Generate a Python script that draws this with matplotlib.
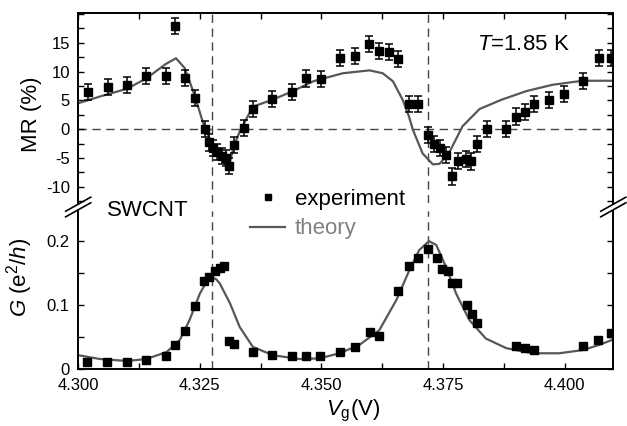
import numpy as np
import matplotlib
matplotlib.use("Agg")
import matplotlib.pyplot as plt
from matplotlib.lines import Line2D
from matplotlib.ticker import MultipleLocator, FixedLocator, FormatStrFormatter

plt.rcParams["font.family"] = ["Liberation Sans", "DejaVu Sans"]
plt.rcParams["mathtext.fontset"] = "custom"
plt.rcParams["mathtext.rm"] = "Liberation Sans"
plt.rcParams["mathtext.it"] = "Liberation Sans:italic"
plt.rcParams["axes.unicode_minus"] = False

#%% data
# magnetoresistance (%) vs gate voltage, measured
vg_mr = [4.3021, 4.3061, 4.3100, 4.3139, 4.3180, 4.3200, 4.3219, 4.3240, 4.3260,
         4.3269, 4.3277, 4.3286, 4.3295, 4.3303, 4.3310, 4.3320, 4.3340, 4.3359,
         4.3399, 4.3439, 4.3469, 4.3499, 4.3539, 4.3570, 4.3598, 4.3618, 4.3639,
         4.3658, 4.3679, 4.3698, 4.3719, 4.3732, 4.3744, 4.3756, 4.3769, 4.3780,
         4.3797, 4.3808, 4.3819, 4.3840, 4.3880, 4.3899, 4.3919, 4.3938, 4.3968,
         4.3998, 4.4037, 4.4070, 4.4095]
mr = [6.5, 7.3, 7.6, 9.25, 9.25, 17.9, 8.85, 5.4, 0.1,
      -2.3, -3.2, -3.9, -4.6, -5.0, -6.4, -2.7, 0.2, 3.5,
      5.2, 6.5, 8.8, 8.7, 12.3, 12.7, 14.75, 13.5, 13.4,
      12.15, 4.3, 4.3, -1.0, -2.55, -3.3, -4.5, -8.2, -5.45,
      -5.2, -5.6, -2.6, 0.0, 0.0, 2.2, 3.05, 4.4, 5.0,
      6.1, 8.3, 12.4, 12.4]
mr_err = 1.4

# magnetoresistance, theory
vg_mr_th = [4.3000, 4.3050, 4.3100, 4.3140, 4.3180, 4.3201, 4.3219, 4.3240, 4.3257,
            4.3280, 4.3300, 4.3308, 4.3320, 4.3332, 4.3359, 4.3399, 4.3439, 4.3483,
            4.3500, 4.3544, 4.3599, 4.3626, 4.3647, 4.3667, 4.3680, 4.3688, 4.3708,
            4.3729, 4.3743, 4.3763, 4.3790, 4.3825, 4.3870, 4.3921, 4.3975, 4.4037,
            4.4098]
mr_th = [4.5, 5.8, 7.0, 8.8, 11.3, 12.3, 10.6, 5.7, 1.0,
         -3.5, -5.8, -6.8, -3.0, -0.4, 3.9, 5.1, 6.5, 8.3,
         8.7, 9.7, 10.2, 9.7, 8.3, 5.1, 2.2, -0.1, -4.2,
         -6.1, -6.0, -4.0, 0.5, 3.5, 5.1, 6.6, 7.7, 8.4,
         8.4]

# conductance G (e^2/h), measured
vg_g = [4.3019, 4.3060, 4.3100, 4.3139, 4.3180, 4.3200, 4.3220, 4.3240, 4.3259,
        4.3268, 4.3281, 4.3291, 4.3300, 4.3309, 4.3320, 4.3359, 4.3399, 4.3439,
        4.3469, 4.3498, 4.3539, 4.3570, 4.3599, 4.3619, 4.3658, 4.3679, 4.3698,
        4.3719, 4.3738, 4.3748, 4.3760, 4.3768, 4.3779, 4.3799, 4.3809, 4.3819,
        4.3899, 4.3919, 4.3938, 4.4037, 4.4068, 4.4096]
g = [0.012, 0.012, 0.012, 0.0145, 0.020, 0.038, 0.060, 0.099, 0.138,
     0.144, 0.153, 0.158, 0.161, 0.044, 0.040, 0.027, 0.022, 0.020,
     0.020, 0.021, 0.0265, 0.035, 0.058, 0.052, 0.122, 0.161, 0.173,
     0.187, 0.173, 0.156, 0.154, 0.135, 0.135, 0.100, 0.086, 0.072,
     0.036, 0.033, 0.030, 0.036, 0.045, 0.056]

# conductance, theory
vg_g_th = [4.3000, 4.3045, 4.3100, 4.3140, 4.3182, 4.3209, 4.3229, 4.3250, 4.3264,
           4.3274, 4.3283, 4.3291, 4.3312, 4.3332, 4.3359, 4.3400, 4.3455, 4.3496,
           4.3537, 4.3578, 4.3619, 4.3654, 4.3681, 4.3701, 4.3721, 4.3736, 4.3756,
           4.3777, 4.3804, 4.3838, 4.3880, 4.3934, 4.3989, 4.4037, 4.4071, 4.4098]
g_th = [0.022, 0.016, 0.013, 0.016, 0.027, 0.046, 0.077, 0.118, 0.137,
        0.143, 0.141, 0.134, 0.103, 0.066, 0.035, 0.022, 0.016, 0.017,
        0.025, 0.038, 0.061, 0.108, 0.155, 0.186, 0.200, 0.194, 0.160,
        0.118, 0.077, 0.048, 0.033, 0.025, 0.025, 0.030, 0.038, 0.046]

peaks = [4.3275, 4.3720]
mr_ticks = [-10, -5, 0, 5, 10, 15]

#%% figure
W, H = 627, 426
fig = plt.figure(figsize=(W / 100, H / 100), dpi=100)

def box(x0, y0, x1, y1):
    # pixel box (top-left origin) -> figure fraction
    return [x0 / W, 1 - y1 / H, (x1 - x0) / W, (y1 - y0) / H]

ax1 = fig.add_axes(box(78.2, 12.7, 613.3, 203))
ax2 = fig.add_axes(box(78.2, 211, 613.3, 369.3))

th_col = "#575757"
dash_col = "#444444"

ax1.plot(vg_mr_th, mr_th, color=th_col, lw=1.6, zorder=2)
ax1.errorbar(vg_mr, mr, yerr=mr_err, fmt="s", ms=6, color="k", ecolor="k",
             elinewidth=1.1, capsize=3, capthick=1.1, zorder=3)
ax1.axhline(0, color=dash_col, lw=1, dashes=(6, 4), zorder=1)

ax2.plot(vg_g_th, g_th, color=th_col, lw=1.6, zorder=2)
ax2.plot(vg_g, g, "s", ms=6, color="k", zorder=3)

for ax in (ax1, ax2):
    for v in peaks:
        ax.axvline(v, color=dash_col, lw=1, dashes=(6, 4), zorder=1)
    ax.set_xlim(4.300, 4.410)
    ax.xaxis.set_major_locator(MultipleLocator(0.025))
    ax.xaxis.set_minor_locator(MultipleLocator(0.0125))
    ax.tick_params(which="both", direction="in", width=1, length=4,
                   labelsize=12, pad=6, right=True)
    for s in ax.spines.values():
        s.set_linewidth(1.4)

ax1.set_ylim(-12.8, 20.2)
ax1.yaxis.set_major_locator(FixedLocator(mr_ticks))
ax1.yaxis.set_minor_locator(MultipleLocator(2.5))
ax1.spines["bottom"].set_visible(False)
ax1.tick_params(which="both", top=True, bottom=False, labelbottom=False)
ax1.set_ylabel("MR (%)", fontsize=16)
ax1.yaxis.set_label_coords(-0.068, 0.468)

ax2.set_ylim(0, 0.247)
ax2.yaxis.set_major_locator(MultipleLocator(0.1))
ax2.yaxis.set_minor_locator(MultipleLocator(0.05))
ax2.yaxis.set_major_formatter(FormatStrFormatter("%g"))
ax2.xaxis.set_major_formatter(FormatStrFormatter("%.3f"))
ax2.spines["top"].set_visible(False)
ax2.tick_params(which="both", top=False)
ax2.set_ylabel(r"$G\ (\mathrm{e}^2/h)$", fontsize=16)
ax2.yaxis.set_label_coords(-0.081, 0.583)
ax2.set_xlabel(r"$V_\mathrm{g}$(V)", fontsize=16)
ax2.xaxis.set_label_coords(0.514, -0.181)

ax1.text(0.746, 0.833, r"$T$=1.85 K", transform=ax1.transAxes,
         fontsize=16, va="center", ha="left")
fig.text(107 / W, 1 - 210 / H, "SWCNT", fontsize=16, va="center", ha="left")

# axis break marks
for xc in (78.2, 613.3):
    for yc in (204.2, 209.8):
        fig.add_artist(Line2D([(xc - 12.5) / W, (xc + 12.5) / W],
                              [1 - (yc + 7) / H, 1 - (yc - 7) / H],
                              color="k", lw=1.2))

handles = [Line2D([], [], ls="none", marker="s", ms=4, color="k"),
           Line2D([], [], color=th_col, lw=1.6)]
fig.legend(handles, ["experiment", "theory"], loc="upper left",
           bbox_to_anchor=(250 / W, 1 - 189 / H), frameon=False, fontsize=16,
           borderpad=0, borderaxespad=0, handlelength=1.58, handletextpad=0.45,
           labelspacing=0.38, labelcolor=["k", "#808080"])

fig.savefig("out.png", dpi=100)
